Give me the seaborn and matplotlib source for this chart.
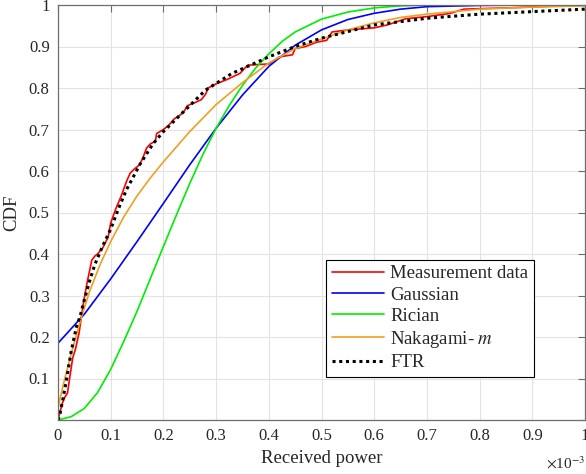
import matplotlib
matplotlib.use("Agg")
import matplotlib.pyplot as plt
import seaborn as sns
import pandas as pd

# x values in units of 1e-3 (received power)
meas_x = [0, 0.004, 0.008, 0.013, 0.018, 0.022, 0.028, 0.033, 0.04, 0.048, 0.055, 0.06, 0.064,
          0.07, 0.075, 0.085, 0.095, 0.1, 0.11, 0.12, 0.13, 0.137, 0.145, 0.155, 0.162, 0.168,
          0.175, 0.185, 0.187, 0.2, 0.21, 0.22, 0.232, 0.24, 0.245, 0.26, 0.272, 0.28, 0.285,
          0.3, 0.32, 0.345, 0.36, 0.4, 0.42, 0.445, 0.45, 0.47, 0.49, 0.51, 0.52, 0.55, 0.6,
          0.625, 0.66, 0.7, 0.745, 0.77, 0.85, 1.0]
meas_y = [0, 0.02, 0.04, 0.055, 0.065, 0.1, 0.15, 0.17, 0.21, 0.28, 0.33, 0.36, 0.385,
          0.395, 0.40, 0.415, 0.44, 0.475, 0.51, 0.54, 0.575, 0.595, 0.605, 0.615, 0.635, 0.655,
          0.665, 0.672, 0.69, 0.70, 0.71, 0.725, 0.735, 0.745, 0.757, 0.765, 0.772, 0.785, 0.80,
          0.81, 0.82, 0.835, 0.855, 0.858, 0.875, 0.88, 0.895, 0.90, 0.91, 0.915, 0.935, 0.94, 0.945,
          0.952, 0.967, 0.972, 0.98, 0.99, 0.993, 1.0]

gauss_x = [0, 0.05, 0.1, 0.15, 0.2, 0.25, 0.3, 0.35, 0.4, 0.45, 0.5, 0.55, 0.6, 0.65, 0.7, 0.8,
           0.9, 1.0]
gauss_y = [0.185, 0.255, 0.34, 0.43, 0.522, 0.615, 0.703, 0.783, 0.852, 0.903, 0.94, 0.965, 0.98,
           0.99, 0.996, 0.999, 1.0, 1.0]

rician_x = [0, 0.025, 0.05, 0.075, 0.1, 0.125, 0.15, 0.175, 0.2, 0.225, 0.25, 0.275, 0.3, 0.325,
            0.35, 0.375, 0.4, 0.425, 0.45, 0.5, 0.55, 0.6, 0.65, 0.7, 1.0]
rician_y = [0, 0.008, 0.028, 0.066, 0.122, 0.19, 0.262, 0.34, 0.418, 0.495, 0.57, 0.64, 0.703,
            0.758, 0.806, 0.848, 0.882, 0.912, 0.935, 0.966, 0.983, 0.993, 0.998, 1.0, 1.0]

naka_x = [0, 0.01, 0.025, 0.045, 0.06, 0.08, 0.1, 0.125, 0.15, 0.175, 0.2, 0.25, 0.3, 0.35, 0.4,
          0.45, 0.5, 0.55, 0.6, 0.65, 0.7, 0.8, 0.9, 1.0]
naka_y = [0.03, 0.085, 0.16, 0.25, 0.31, 0.375, 0.43, 0.49, 0.54, 0.583, 0.622, 0.695, 0.76, 0.813,
          0.86, 0.895, 0.918, 0.94, 0.957, 0.97, 0.978, 0.99, 0.995, 0.998]

ftr_x = [0, 0.004, 0.01, 0.016, 0.025, 0.035, 0.042, 0.05, 0.06, 0.07, 0.085, 0.1, 0.115, 0.13,
         0.155, 0.18, 0.2, 0.24, 0.28, 0.33, 0.4, 0.45, 0.5, 0.6, 0.7, 0.8, 0.9, 1.0]
ftr_y = [0, 0.016, 0.055, 0.096, 0.165, 0.225, 0.25, 0.29, 0.335, 0.375, 0.42, 0.46, 0.51, 0.555,
         0.615, 0.665, 0.695, 0.745, 0.795, 0.835, 0.875, 0.9, 0.92, 0.952, 0.968, 0.978, 0.984, 0.99]

labels = ["Measurement data", "Gaussian", "Rician", "Nakagami- $m$", "FTR"]
x_ticklabels = ["0", "0.1", "0.2", "0.3", "0.4", "0.5", "0.6", "0.7", "0.8", "0.9", "1"]
y_ticklabels = ["", "0.1", "0.2", "0.3", "0.4", "0.5", "0.6", "0.7", "0.8", "0.9", "1"]

sns.set_theme(style="white")
plt.rcParams["font.family"] = ["Liberation Serif", "DejaVu Serif"]
plt.rcParams["mathtext.fontset"] = "stix"

fig = plt.figure(figsize=(5.86, 4.74), dpi=100)
ax = fig.add_axes([58 / 586, 54 / 474, 527 / 586, 415 / 474])

series = [
    (meas_x, meas_y, "#ff0000"),
    (gauss_x, gauss_y, "#0000ff"),
    (rician_x, rician_y, "#00ee00"),
    (naka_x, naka_y, "#f0a020"),
]
for (xs, ys, c), lab in zip(series, labels[:4]):
    df = pd.DataFrame({"x": [v * 1e-3 for v in xs], "y": ys})
    sns.lineplot(data=df, x="x", y="y", ax=ax, color=c, lw=1.2, sort=False,
                 estimator=None, label=lab)

df = pd.DataFrame({"x": [v * 1e-3 for v in ftr_x], "y": ftr_y})
sns.lineplot(data=df, x="x", y="y", ax=ax, color="black", lw=2.2, sort=False,
             estimator=None, label=labels[4], linestyle=(0, (1, 1.2)),
             dash_capstyle="butt")

ax.set_xlim(0, 1e-3)
ax.set_ylim(0, 1)
ax.set_xticks([i * 1e-4 for i in range(11)])
ax.set_xticklabels(x_ticklabels)
ax.set_yticks([i * 0.1 for i in range(11)])
ax.set_yticklabels(y_ticklabels)

ax.grid(True, color="#e3e3e3", lw=0.8)
ax.set_axisbelow(True)
for s in ax.spines.values():
    s.set_color("#6e6e6e")
    s.set_linewidth(0.9)
ax.tick_params(direction="in", length=5, width=0.8, color="#6e6e6e",
               top=True, right=True, labelsize=12, labelcolor="#262626", pad=6)

ax.set_xlabel("Received power", fontsize=13.5, color="#262626", labelpad=4)
ax.set_ylabel("CDF", fontsize=13.5, color="#262626", labelpad=6)
ax.text(1.0, -0.085, r"$\times$10$^{-3}$", transform=ax.transAxes, ha="right", va="top",
        fontsize=11, color="#262626")

leg = ax.legend(loc="lower left", bbox_to_anchor=(0.509, 0.104), fontsize=13.5,
                frameon=True, fancybox=False, framealpha=1, edgecolor="black",
                handlelength=2.8, handletextpad=0.3, borderpad=0.3, labelspacing=0.22,
                borderaxespad=0)
leg.get_frame().set_linewidth(0.8)

fig.savefig("out.png", dpi=100)
